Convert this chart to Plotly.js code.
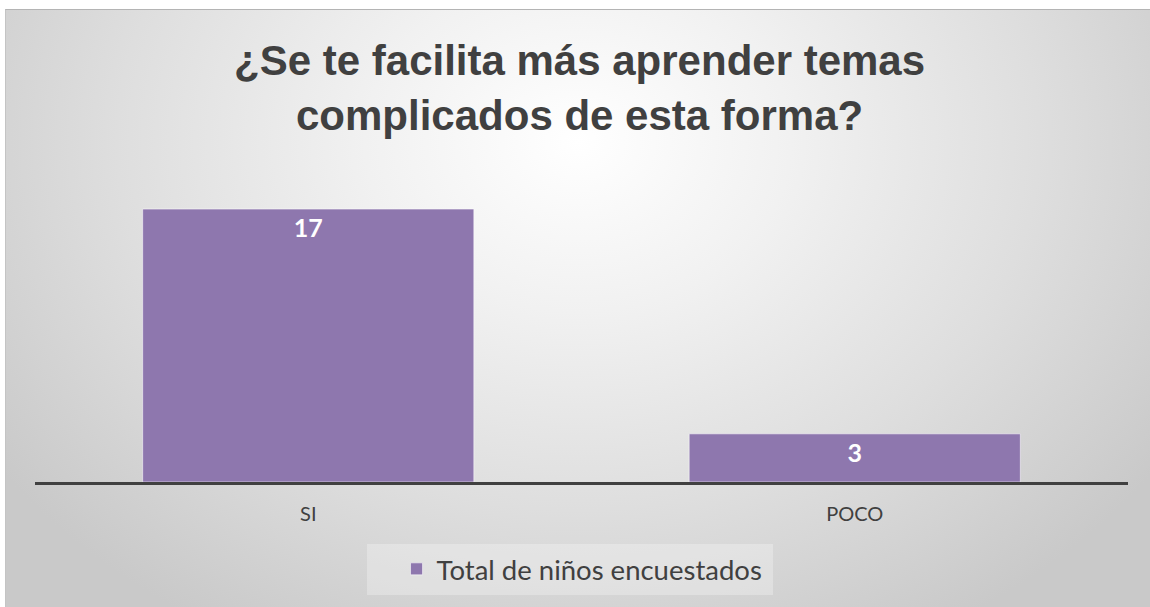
<!DOCTYPE html>
<html>
<head>
<meta charset="utf-8">
<script src="https://cdn.plot.ly/plotly-3.0.1.min.js"></script>
<style>
  html, body { margin: 0; padding: 0; background: #ffffff; }
  #wrap { position: relative; width: 1150px; height: 607px; overflow: hidden; }
  #bg {
    position: absolute; left: 5px; top: 9px; right: 0; bottom: 0;
    border-top: 1px solid #b4b4b4; border-left: 1px solid #c4c4c4;
    background: radial-gradient(ellipse 62% 95% at 50% 22%, #ffffff 0%, #f1f1f1 30%, #dedede 65%, #c9c9c9 100%);
  }
  #chart { position: absolute; left: 0; top: 0; width: 1150px; height: 607px; }
</style>
</head>
<body>
<div id="wrap">
  <div id="bg"></div>
  <div id="chart"></div>
</div>
<script>
const categories = ["SI", "POCO"];
const values = [17, 3];
const seriesName = "Total de niños encuestados";
const titleLines = ["¿Se te facilita más aprender temas", "complicados de esta forma?"];

const trace = {
  type: "bar",
  x: categories,
  y: values,
  name: seriesName,
  text: values.map(String),
  textposition: "inside",
  insidetextanchor: "end",
  textangle: 0,
  textfont: { family: "Lato, 'Open Sans', sans-serif", size: 25, color: "#ffffff", weight: "bold" },
  marker: { color: "#8e77ae", line: { color: "rgba(255,255,255,0.55)", width: 1 } },
  hoverinfo: "x+y"
};

const layout = {
  width: 1150,
  height: 607,
  paper_bgcolor: "rgba(0,0,0,0)",
  plot_bgcolor: "rgba(0,0,0,0)",
  margin: { l: 35, r: 22, t: 193, b: 125 },
  bargap: 0.394,
  showlegend: true,
  title: {
    text: titleLines.join("<br>"),
    font: { family: "'Liberation Sans', Arial, sans-serif", size: 42, color: "#404040", weight: "bold" },
    x: 0.504,
    xanchor: "center",
    y: 0.876,
    yanchor: "top",
    yref: "container"
  },
  xaxis: {
    type: "category",
    showline: true,
    linecolor: "#404040",
    linewidth: 3,
    showgrid: false,
    zeroline: false,
    ticks: "",
    ticklabelstandoff: 12,
    tickfont: { family: "Lato, 'Open Sans', sans-serif", size: 20, color: "#404040" }
  },
  yaxis: {
    range: [0, 18],
    visible: false,
    showgrid: false,
    zeroline: false
  },
  legend: {
    orientation: "h",
    x: 0.5005,
    xanchor: "center",
    xref: "paper",
    y: -0.301,
    yanchor: "middle",
    bgcolor: "rgba(0,0,0,0)",
    font: { family: "Lato, 'Open Sans', sans-serif", size: 27.5, color: "#404040" }
  },
  shapes: [
    {
      type: "rect", xref: "paper", yref: "paper",
      x0: 0.3037, x1: 0.6752, y0: -0.2145, y1: -0.391,
      fillcolor: "rgba(255,255,255,0.28)", line: { width: 0 }, layer: "below"
    }
  ]
};

Plotly.newPlot("chart", [trace], layout, { displayModeBar: false, staticPlot: true });
</script>
</body>
</html>
